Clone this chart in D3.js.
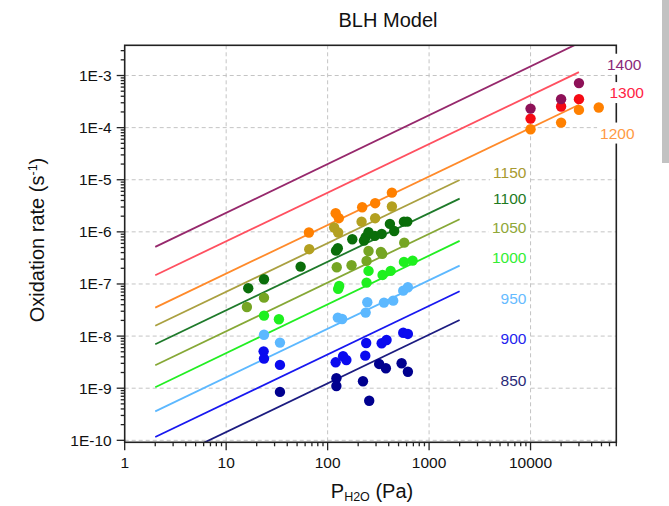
<!DOCTYPE html>
<html>
<head>
<meta charset="utf-8">
<script src="https://cdnjs.cloudflare.com/ajax/libs/d3/7.8.5/d3.min.js"></script>
<style>
	body { margin: 0; background: #fff; }
	svg { display: block; font-family: 'Liberation Sans', Arial, sans-serif; }
</style>
</head>
<body>
<div id="chart"></div>
<script>
// temperatures (°C)
const temps = [850, 900, 950, 1000, 1050, 1100, 1150, 1200, 1300, 1400];

// measured points [P_H2O (Pa), rate (1/s)]
const pts850 = [[33.9, 8.5e-10], [122, 1.55e-9], [122, 1.1e-9], [223, 1.36e-9], [257, 5.75e-10], [322, 2.92e-9], [375, 2.41e-9], [536, 3.01e-9], [618, 2.07e-9]];
const pts900 = [[23.4, 5.1e-9], [23.6, 3.7e-9], [33.9, 2.8e-9], [120, 3.14e-9], [142, 4.1e-9], [153, 3.48e-9], [235, 4.21e-9], [240, 7.38e-9], [341, 7.28e-9], [381, 8.43e-9], [556, 1.16e-8], [618, 1.1e-8]];
const pts950 = [[23.6, 1.06e-8], [33.9, 7.5e-9], [126, 2.26e-8], [139, 2.13e-8], [237, 2.82e-8], [246, 4.46e-8], [359, 4.39e-8], [443, 4.79e-8], [556, 7.45e-8], [618, 8.65e-8]];
const pts1000 = [[23.6, 2.47e-8], [33.1, 2.1e-8], [127, 8.04e-8], [130, 9.16e-8], [242, 1.06e-7], [253, 1.78e-7], [348, 1.49e-7], [418, 1.78e-7], [565, 2.65e-7], [688, 2.81e-7]];
const pts1050 = [[16.0, 3.62e-8], [23.6, 5.47e-8], [123, 2.09e-7], [172, 2.29e-7], [242, 2.77e-7], [253, 4.3e-7], [335, 4.12e-7], [345, 3.78e-7], [569, 6.21e-7]];
const pts1100 = [[16.5, 8.3e-8], [23.6, 1.23e-7], [54.2, 2.15e-7], [121, 4.36e-7], [126, 4.85e-7], [175, 7.23e-7], [228, 6.79e-7], [237, 7.89e-7], [253, 9.84e-7], [292, 8.36e-7], [341, 9.12e-7], [411, 1.42e-6], [453, 1.04e-6], [565, 1.57e-6], [609, 1.57e-6]];
const pts1150 = [[65.9, 4.65e-7], [116, 1.21e-6], [127, 9.7e-7], [216, 1.57e-6], [294, 1.83e-6], [430, 3.06e-6]];
const pts1200 = [[65.4, 9.7e-7], [120, 2.28e-6], [129, 1.83e-6], [219, 2.97e-6], [294, 3.55e-6], [430, 5.66e-6], [10000, 9.3e-5], [20000, 1.25e-4], [30000, 2.19e-4], [47000, 2.43e-4]];
const pts1300 = [[10000, 1.49e-4], [20000, 2.54e-4], [30000, 3.52e-4]];
const pts1400 = [[10000, 2.32e-4], [20000, 3.52e-4], [30000, 7.15e-4]];

// BLH model fit lines (end points)
const fit850 = [[2, 3.2e-11], [2000, 2.04e-8]];
const fit900 = [[2, 1.16e-10], [2000, 7.24e-8]];
const fit950 = [[2, 3.6e-10], [2000, 2.25e-7]];
const fit1000 = [[2, 1.04e-9], [2000, 6.7e-7]];
const fit1050 = [[2, 2.75e-9], [2000, 1.75e-6]];
const fit1100 = [[2, 6.97e-9], [2000, 4.35e-6]];
const fit1150 = [[2, 1.58e-8], [2000, 9.9e-6]];
const fit1200 = [[2, 3.52e-8], [30000, 2.75e-4]];
const fit1300 = [[2, 1.47e-7], [30000, 1.16e-3]];
const fit1400 = [[2, 5.14e-7], [30000, 4.2e-3]];

// axis ticks
const xTickValues = [1, 10, 100, 1000, 10000];
const xTickLabels = ['1', '10', '100', '1000', '10000'];
const yTickValues = [1e-10, 1e-9, 1e-8, 1e-7, 1e-6, 1e-5, 1e-4, 1e-3];
const yTickLabels = ['1E-10', '1E-9', '1E-8', '1E-7', '1E-6', '1E-5', '1E-4', '1E-3'];

// where each temperature label sits (data coordinates, right end of text)
const labelAt = [[9100, 1.39e-9], [9100, 8.8e-9], [9100, 5.16e-8], [9100, 3.2e-7], [9100, 1.23e-6], [9100, 4.43e-6], [9100, 1.4e-5], [106000, 7.84e-5], [131000, 4.69e-4], [124000, 1.64e-3]];

const points = [pts850, pts900, pts950, pts1000, pts1050, pts1100, pts1150, pts1200, pts1300, pts1400];
const fits = [fit850, fit900, fit950, fit1000, fit1050, fit1100, fit1150, fit1200, fit1300, fit1400];

const dotColor = ['#00008f', '#0a0aef', '#5cb8ff', '#1ef01e', '#75a523', '#0a6e0a', '#b3a020', '#ff8000', '#f50a14', '#8e1158'];
const lineColor = ['#1c1c80', '#1818f0', '#5cb8ff', '#22ee22', '#86a836', '#1e7a2a', '#aaa040', '#ff8a2a', '#ff5060', '#96286c'];
const labelColor = ['#2a2a78', '#2424ee', '#66bbff', '#33ee33', '#8fa838', '#1e7a1e', '#a89a30', '#ff9a44', '#ff2244', '#8a2a7a'];

const W = 669, H = 506;
const plot = { left: 124.7, right: 616.3, top: 45.3, bottom: 442.3 };

const svg = d3
	.select('#chart')
	.append('svg')
	.attr('width', W)
	.attr('height', H);

// screenshot edge strip at the far right
svg.append('rect').attr('x', 662).attr('y', 0).attr('width', 7).attr('height', 163).attr('fill', '#c2c2c2');

const x = d3.scaleLog().domain([1, 70000]).range([plot.left, plot.right]);
const y = d3.scaleLog().domain([0.916e-10, 3.8e-3]).range([plot.bottom, plot.top]);

svg.append('clipPath')
	.attr('id', 'plotClip')
	.append('rect')
	.attr('x', plot.left)
	.attr('y', plot.top)
	.attr('width', plot.right - plot.left)
	.attr('height', plot.bottom - plot.top);

// grid
const grid = svg.append('g').attr('stroke', '#c4c4c4').attr('stroke-width', 1).attr('stroke-dasharray', '4,3');
grid.selectAll('.gx')
	.data(xTickValues.slice(1))
	.enter()
	.append('line')
	.attr('x1', (d) => x(d))
	.attr('x2', (d) => x(d))
	.attr('y1', plot.top)
	.attr('y2', plot.bottom);
grid.selectAll('.gy')
	.data(yTickValues)
	.enter()
	.append('line')
	.attr('x1', plot.left)
	.attr('x2', plot.right)
	.attr('y1', (d) => y(d))
	.attr('y2', (d) => y(d));

// model lines
const line = d3
	.line()
	.x((d) => x(d[0]))
	.y((d) => y(d[1]));

const lineGroup = svg.append('g').attr('clip-path', 'url(#plotClip)');
fits.forEach((fit, i) => {
	lineGroup
		.append('path')
		.datum(fit)
		.attr('fill', 'none')
		.attr('stroke', lineColor[i])
		.attr('stroke-width', 1.8)
		.attr('d', line);
});

// points
points.forEach((pts, i) => {
	svg.append('g')
		.selectAll('circle')
		.data(pts)
		.enter()
		.append('circle')
		.attr('cx', (d) => x(d[0]))
		.attr('cy', (d) => y(d[1]))
		.attr('r', 5.2)
		.attr('fill', dotColor[i]);
});

// frame
svg.append('rect')
	.attr('x', plot.left)
	.attr('y', plot.top)
	.attr('width', plot.right - plot.left)
	.attr('height', plot.bottom - plot.top)
	.attr('fill', 'none')
	.attr('stroke', '#222')
	.attr('stroke-width', 1.6);

// ticks
const xMinor = [];
for (let e = 0; e <= 4; e++) for (let k = 2; k <= 9; k++) if (k * 10 ** e <= 70000) xMinor.push(k * 10 ** e);
const yMinor = [];
for (let e = -10; e <= -3; e++) for (let k = 2; k <= 9; k++) if (k * 10 ** e <= 3.8e-3) yMinor.push(k * 10 ** e);

const ticks = svg.append('g').attr('stroke', '#222').attr('stroke-width', 1.3);
ticks.selectAll('.xM').data(xTickValues).enter().append('line')
	.attr('x1', (d) => x(d)).attr('x2', (d) => x(d))
	.attr('y1', plot.bottom).attr('y2', plot.bottom + 8);
ticks.selectAll('.xm').data(xMinor).enter().append('line')
	.attr('x1', (d) => x(d)).attr('x2', (d) => x(d))
	.attr('y1', plot.bottom).attr('y2', plot.bottom + 4);
ticks.selectAll('.yM').data(yTickValues).enter().append('line')
	.attr('x1', plot.left - 8).attr('x2', plot.left)
	.attr('y1', (d) => y(d)).attr('y2', (d) => y(d));
ticks.selectAll('.ym').data(yMinor).enter().append('line')
	.attr('x1', plot.left - 4).attr('x2', plot.left)
	.attr('y1', (d) => y(d)).attr('y2', (d) => y(d));

// tick labels
svg.append('g')
	.selectAll('text')
	.data(xTickValues)
	.enter()
	.append('text')
	.attr('x', (d) => x(d))
	.attr('y', plot.bottom + 26)
	.attr('text-anchor', 'middle')
	.attr('font-size', '15.5px')
	.attr('fill', '#111')
	.text((d, i) => xTickLabels[i]);

svg.append('g')
	.selectAll('text')
	.data(yTickValues)
	.enter()
	.append('text')
	.attr('x', plot.left - 13)
	.attr('y', (d) => y(d))
	.attr('dy', '0.35em')
	.attr('text-anchor', 'end')
	.attr('font-size', '15.5px')
	.attr('fill', '#111')
	.text((d, i) => yTickLabels[i]);

// temperature labels with white boxes
temps.forEach((t, i) => {
	const g = svg.append('g');
	const txt = g
		.append('text')
		.attr('x', x(labelAt[i][0]))
		.attr('y', y(labelAt[i][1]))
		.attr('dy', '0.35em')
		.attr('text-anchor', 'end')
		.attr('font-size', '15.5px')
		.attr('fill', labelColor[i])
		.text(t);
	const bb = txt.node().getBBox();
	g.insert('rect', 'text')
		.attr('x', bb.x - 3)
		.attr('y', bb.y - 2)
		.attr('width', bb.width + 6)
		.attr('height', bb.height + 4)
		.attr('fill', '#fff');
});

// title and axis titles
svg.append('text')
	.attr('x', 388)
	.attr('y', 27)
	.attr('text-anchor', 'middle')
	.attr('font-size', '20px')
	.attr('fill', '#111')
	.text('BLH Model');

const xt = svg.append('text')
	.attr('x', 372)
	.attr('y', 498)
	.attr('text-anchor', 'middle')
	.attr('font-size', '20px')
	.attr('fill', '#111');
xt.append('tspan').text('P');
xt.append('tspan').attr('font-size', '12.5px').attr('dy', '3').text('H2O');
xt.append('tspan').attr('dy', '-3').text(' (Pa)');

const yt = svg.append('text')
	.attr('transform', 'translate(44,240) rotate(-90)')
	.attr('text-anchor', 'middle')
	.attr('font-size', '20px')
	.attr('fill', '#111');
yt.append('tspan').text('Oxidation rate (s');
yt.append('tspan').attr('font-size', '12.5px').attr('dy', '-7').text('-1');
yt.append('tspan').attr('dy', '7').text(')');
</script>
</body>
</html>
